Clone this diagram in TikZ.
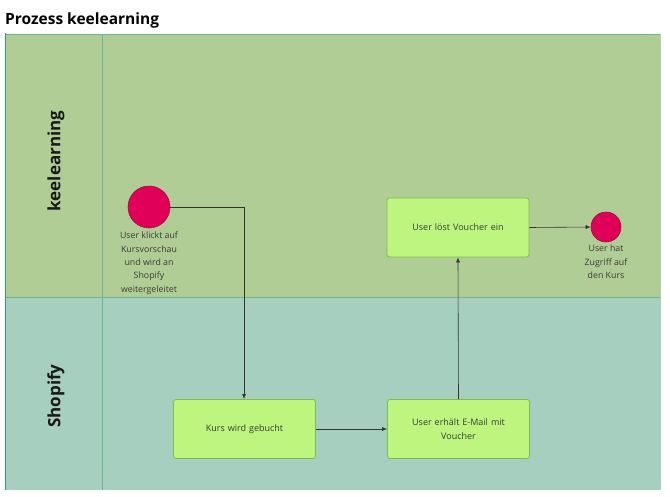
\documentclass[tikz,border=0pt]{standalone}
\usepackage{fontspec}
\setmainfont{Open Sans}
\newfontfamily\titlefont{Open Sans}
\usetikzlibrary{arrows.meta}
\definecolor{laneA}{HTML}{B1CD96}
\definecolor{laneB}{HTML}{A6CFBF}
\definecolor{laneline}{HTML}{6DB38B}
\definecolor{poolline}{HTML}{2E9E7E}
\definecolor{boxfill}{HTML}{BDF57F}
\definecolor{boxline}{HTML}{7DBE4A}
\definecolor{evfill}{HTML}{E0005A}
\definecolor{evline}{HTML}{A0103A}
\definecolor{txt}{HTML}{3A3A3A}
\tikzset{
  taskbox/.style={draw=boxline, fill=boxfill, line width=0.8pt, rounded corners=2.5pt,
    minimum width=142pt, minimum height=59pt, align=center, text width=125pt,
    font=\fontsize{9}{14}\selectfont, text=txt},
  evt/.style={circle, draw=evline, fill=evfill, line width=0.6pt, inner sep=0pt},
  evlabel/.style={align=center, font=\fontsize{8.8}{13.3}\selectfont, text=txt, inner sep=0pt},
  flow/.style={draw=black!80, line width=0.6pt, -{Latex[length=5pt,width=4pt]}},
  lanelabel/.style={rotate=90, font=\titlefont\bfseries\fontsize{17}{19}\selectfont, text=black!90}
}
\begin{document}
\begin{tikzpicture}[x=1pt,y=-1pt]
\useasboundingbox[fill=white] (0,0) rectangle (670,496);
% title
\node[anchor=base west, inner sep=0pt, font=\titlefont\bfseries\fontsize{15.5}{18}\selectfont] (title) at (5,24) {Prozess keelearning};
% lanes
\fill[laneA] (5,34) rectangle (660,297);
\fill[laneB] (5,297) rectangle (660,490);
\draw[laneline, line width=0.8pt] (5,34) -- (660,34);
\draw[laneline, line width=0.8pt] (5,297) -- (660,297);
\draw[laneline, line width=0.8pt] (102,34) -- (102,490);
\draw[laneline!60, line width=0.5pt] (660,34) -- (660,490);
\draw[poolline, line width=1.6pt] (5.5,33) -- (5.5,490);
\node[lanelabel] (l1) at (56,161) {keelearning};
\node[lanelabel] (l2) at (56,396) {Shopify};
% events
\node[evt, minimum size=42pt] (start) at (149,207) {};
\node[evlabel, anchor=north] (startlbl) at (149,232) {User klickt auf\\Kursvorschau\\und wird an\\Shopify\\weitergeleitet};
\node[evt, minimum size=30pt] (end) at (606,227) {};
\node[evlabel, anchor=north] (endlbl) at (606,245) {User hat\\Zugriff auf\\den Kurs};
% tasks
\node[taskbox] (kurs) at (244.5,429) {Kurs wird gebucht};
\node[taskbox] (mail) at (458.5,429) {User erhält E-Mail mit\\Voucher};
\node[taskbox] (voucher) at (458,227.5) {User löst Voucher ein};
% flows
\draw[flow] (start.east) -| (kurs.north -| 244,0);
\draw[flow] (kurs.east) -- (mail.west);
\draw[flow] (mail.north) -- (voucher.south);
\draw[flow] (voucher.east) -- (end.west);
\end{tikzpicture}
\end{document}
